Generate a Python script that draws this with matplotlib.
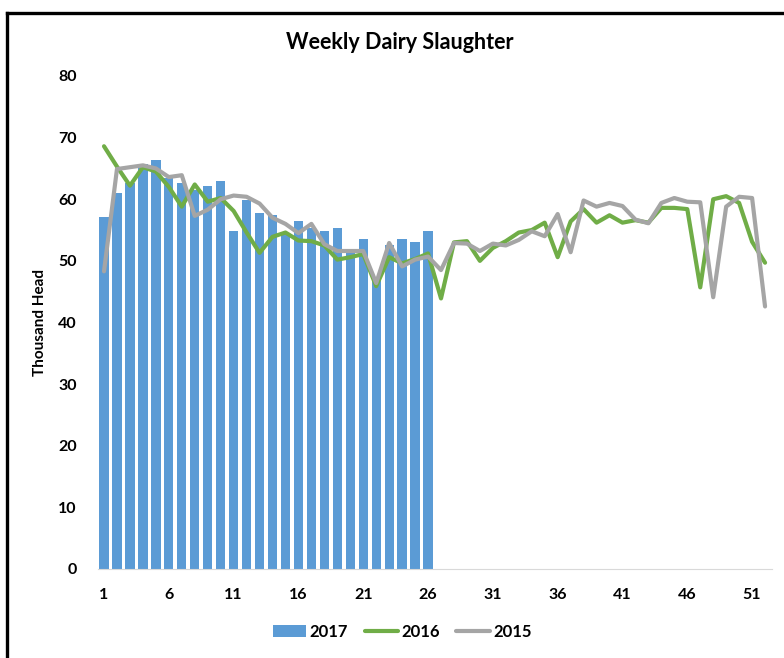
import matplotlib.pyplot as plt
from matplotlib.lines import Line2D

plt.rcParams["font.family"] = ["Lato", "DejaVu Sans"]

# Data (thousand head per week)

weeks = list(range(1, 53))
weeks_2017 = list(range(1, 27))

head_2017 = [57.1, 61.0, 62.7, 65.7, 66.3, 63.5, 62.6, 61.5, 62.2, 63.0,
             54.8, 59.8, 57.8, 57.4, 54.5, 56.5, 55.3, 54.8, 55.3, 51.5,
             53.5, 47.0, 52.6, 53.5, 53.1, 54.8]

head_2016 = [68.6, 65.3, 62.2, 65.2, 64.5, 62.0, 58.8, 62.4, 59.6, 60.2,
             58.1, 54.6, 51.3, 53.9, 54.6, 53.3, 53.2, 52.5, 50.2, 50.6,
             51.1, 45.9, 50.6, 49.6, 50.3, 51.2, 43.9, 53.0, 53.2, 50.0,
             52.1, 53.2, 54.6, 55.0, 56.2, 50.6, 56.4, 58.4, 56.2, 57.4,
             56.2, 56.6, 56.2, 58.6, 58.6, 58.4, 45.7, 60.0, 60.5, 59.4,
             53.1, 49.7]

head_2015 = [48.3, 64.9, 65.2, 65.5, 65.0, 63.6, 63.9, 57.3, 58.3, 60.0,
             60.6, 60.4, 59.3, 57.0, 56.0, 54.5, 56.0, 52.7, 51.6, 51.6,
             51.6, 46.4, 52.9, 49.1, 50.2, 50.7, 48.5, 52.9, 52.8, 51.6,
             52.8, 52.5, 53.4, 54.8, 54.0, 57.6, 51.4, 59.8, 58.8, 59.4,
             58.9, 56.7, 56.1, 59.4, 60.2, 59.6, 59.5, 44.1, 58.8, 60.4,
             60.2, 42.6]

x_ticks = list(range(1, 53, 5))
y_ticks = list(range(0, 81, 10))


# Chart

fig = plt.figure(figsize=(7.84, 6.58), dpi=100)
ax = fig.add_axes([0.1244, 0.1353, 0.8597, 0.7492])

bars = ax.bar(weeks_2017, head_2017, width=0.72, color="#5B9BD5", label="2017", zorder=1)
line16, = ax.plot(weeks, head_2016, color="#70AD47", lw=3.0, label="2016",
                  solid_joinstyle="round", solid_capstyle="round", zorder=2)
line15, = ax.plot(weeks, head_2015, color="#A5A5A5", lw=3.0, label="2015",
                  solid_joinstyle="round", solid_capstyle="round", zorder=3)

ax.set_xlim(0.5, 52.5)
ax.set_ylim(0, 80)
ax.set_xticks(x_ticks)
ax.set_yticks(y_ticks)
ax.tick_params(length=0, labelsize=11.5)
ax.tick_params(axis="x", pad=14)
ax.tick_params(axis="y", pad=15)
for lab in ax.get_xticklabels() + ax.get_yticklabels():
    lab.set_fontweight("bold")

for side in ["top", "right", "left"]:
    ax.spines[side].set_visible(False)
ax.spines["bottom"].set_color("#D9D9D9")

ax.set_ylabel("Thousand Head", fontsize=11, fontweight="bold", labelpad=8)
fig.text(0.510, 0.936, "Weekly Dairy Slaughter", ha="center", va="center",
         fontsize=15.5, fontweight="bold")

fig.legend([bars, line16, line15], ["2017", "2016", "2015"],
           loc="center", bbox_to_anchor=(0.513, 0.040), ncol=3, frameon=False,
           prop={"size": 12, "weight": "bold"}, handlelength=2.0,
           handletextpad=0.2, columnspacing=1.0)

# black frame around the figure (cut at right and bottom)
fig.add_artist(Line2D([0.0085, 0.0085], [0.0, 0.981], color="black", lw=2.4,
                      transform=fig.transFigure))
fig.add_artist(Line2D([0.0085, 1.0], [0.980, 0.980], color="black", lw=2.4,
                      transform=fig.transFigure))

plt.savefig("out.png", dpi=100)
